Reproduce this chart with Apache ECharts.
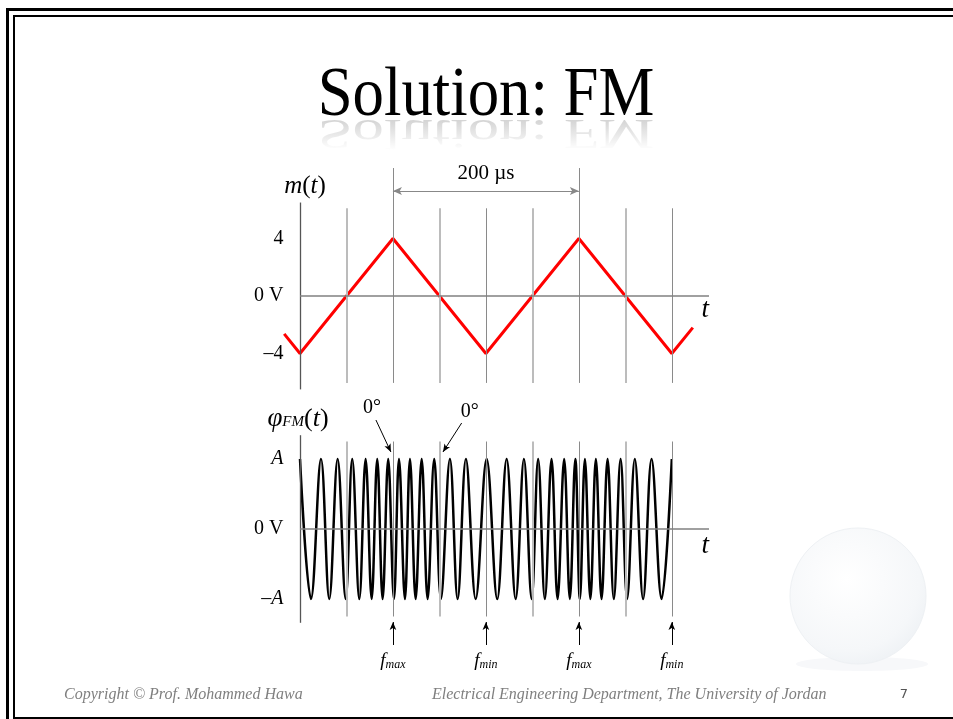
<!DOCTYPE html>
<html>
<head>
<meta charset="utf-8">
<title>Solution: FM</title>
<script src="https://cdn.jsdelivr.net/npm/echarts@6.0.0/dist/echarts.min.js"></script>
<style>
  html, body { margin: 0; padding: 0; background: #fff; }
  #main { width: 953px; height: 719px; }
</style>
</head>
<body>
<div id="main"></div>
<script>
// m(t): triangle message, time in microseconds, value in volts
var mTimes = [-17, 0, 100, 200, 300, 400, 422.6];
var mValues = [-2.64, -4, 4, -4, 4, -4, -2.2];
var mTickValues = [-4, 0, 4];
var mTickLabels = ['\u20134', '0 V', '4'];

// FM signal: where the crests (+A) and troughs (-A) sit, in microseconds
var fmPeakTimes = [0, 22.6, 40.5, 56.2, 70.6, 83.1, 94.9, 106.5, 118.3, 130.9, 144.4,
  161.3, 178.5, 200.8, 222.3, 240.9, 256.2, 270.6, 284.2, 296.2, 306.5, 318.3, 330.9,
  344.9, 360.2, 378.2, 400];
var fmTroughTimes = [11.8, 31.5, 49.1, 63.8, 77.1, 88.9, 101.1, 112.9, 124.4, 137.3,
  151.6, 169.6, 189.0, 212.2, 232.0, 249.2, 263.4, 277.1, 290.3, 301.1, 312.4, 324.4,
  337.6, 351.9, 369.1, 389.0];
var fmTickValues = [-1, 0, 1];
var fmTickLabels = ['\u2013{i|A}', '0 V', '{i|A}'];

// vertical guides every 50 us, and the instants marked under the FM plot
var gridTimes = [50, 100, 150, 200, 250, 300, 350, 400];
var fMarkTimes = [100, 200, 300, 400];
var fMarkNames = ['max', 'min', 'max', 'min'];

var serif = '"Liberation Serif", "Times New Roman", serif';

var mData = mTimes.map(function (t, i) { return [t, mValues[i]]; });
var fmData = fmPeakTimes.map(function (t) { return [t, 1]; })
  .concat(fmTroughTimes.map(function (t) { return [t, -1]; }))
  .sort(function (a, b) { return a[0] - b[0]; });

function guides(lo, hi, tallTimes, tallTop, axisLo, axisHi) {
  var out = gridTimes.map(function (t) {
    var major = t % 100 === 0;
    var top = tallTimes.indexOf(t) >= 0 ? tallTop : hi;
    return [
      { coord: [t, lo], lineStyle: { color: major ? '#8a8a8a' : '#bcbcbc', width: major ? 1 : 2, type: 'solid' } },
      { coord: [t, top] }
    ];
  });
  // vertical axis at t = 0 and the 0 V line
  out.push([{ coord: [0, axisLo], lineStyle: { color: '#555', width: 1.3, type: 'solid' } }, { coord: [0, axisHi] }]);
  out.push([{ coord: [0, 0], lineStyle: { color: '#808080', width: 1.5, type: 'solid' } }, { coord: [440, 0] }]);
  return out;
}

var dom = document.getElementById('main');
var myChart = echarts.init(dom);

function tAxis(idx, pad) {
  return {
    gridIndex: idx, type: 'value', min: -20, max: 440,
    axisLine: { show: false }, axisTick: { show: false }, axisLabel: { show: false }, splitLine: { show: false },
    name: 't', nameLocation: 'end', nameGap: 0,
    nameTextStyle: { fontFamily: serif, fontStyle: 'italic', fontSize: 27, color: '#000',
      align: 'right', verticalAlign: 'top', padding: [pad, 0, 0, 0] }
  };
}

var option = {
  backgroundColor: '#ffffff',
  animation: false,
  grid: [
    { left: 281.4, top: 166.6, width: 427.6, height: 222.8 },
    { left: 281.4, top: 417, width: 427.6, height: 231 }
  ],
  xAxis: [tAxis(0, 0), tAxis(1, 3)],
  yAxis: [
    {
      gridIndex: 0, type: 'value', min: -6.5, max: 9,
      axisLine: { show: false }, axisTick: { show: false }, splitLine: { show: false },
      axisLabel: {
        customValues: mTickValues,
        formatter: function (v) { return mTickLabels[mTickValues.indexOf(v)]; },
        margin: -2, fontFamily: serif, fontSize: 20, color: '#000'
      }
    },
    {
      gridIndex: 1, type: 'value', min: -1.7, max: 1.6,
      axisLine: { show: false }, axisTick: { show: false }, splitLine: { show: false },
      axisLabel: {
        customValues: fmTickValues,
        formatter: function (v) { return fmTickLabels[fmTickValues.indexOf(v)]; },
        margin: -2, fontFamily: serif, fontSize: 20, color: '#000',
        rich: { i: { fontFamily: serif, fontStyle: 'italic', fontSize: 20, color: '#000' } }
      }
    }
  ],
  series: [
    // guides of the top plot
    {
      type: 'line', xAxisIndex: 0, yAxisIndex: 0, data: [], z: 1, silent: true,
      markLine: {
        silent: true, symbol: ['none', 'none'], label: { show: false },
        data: guides(-6.05, 6.1, [100, 300], 8.9, -6.5, 6.5)
      }
    },
    // 200 us dimension
    {
      type: 'line', xAxisIndex: 0, yAxisIndex: 0, data: [], z: 1, silent: true,
      markLine: {
        silent: true, symbol: ['arrow', 'arrow'], symbolSize: [6, 9],
        lineStyle: { color: '#888', width: 1, type: 'solid' },
        label: { show: true, position: 'insideMiddleTop', distance: 7, formatter: '200 \u00b5s',
          fontFamily: serif, fontSize: 21, color: '#000' },
        data: [[{ coord: [100, 7.3] }, { coord: [300, 7.3] }]]
      }
    },
    {
      type: 'line', name: 'm(t)', xAxisIndex: 0, yAxisIndex: 0, data: mData,
      showSymbol: false, clip: false, z: 3,
      lineStyle: { color: '#ff0000', width: 3 },
      markPoint: {
        silent: true, symbol: 'circle', symbolSize: 0,
        label: { show: true, position: 'top', distance: 4, formatter: '{i|m}({i|t})',
          fontFamily: serif, fontSize: 25, color: '#000',
          rich: { i: { fontFamily: serif, fontStyle: 'italic', fontSize: 25, color: '#000' } } },
        data: [{ coord: [5.4, 6.5] }]
      }
    },
    // guides of the bottom plot
    {
      type: 'line', xAxisIndex: 1, yAxisIndex: 1, data: [], z: 1, silent: true,
      markLine: {
        silent: true, symbol: ['none', 'none'], label: { show: false },
        data: guides(-1.25, 1.25, [], 1.25, -1.34, 1.34)
      }
    },
    // 0 degree pointers
    {
      type: 'line', xAxisIndex: 1, yAxisIndex: 1, data: [], z: 4, silent: true,
      markLine: {
        silent: true, symbol: ['none', 'arrow'], symbolSize: [5, 8],
        lineStyle: { color: '#000', width: 1, type: 'solid' },
        label: { show: true, position: 'start', distance: 2, formatter: '0\u00b0',
          fontFamily: serif, fontSize: 20, color: '#000' },
        data: [
          [{ coord: [81.7, 1.557], label: { offset: [-3, 0] } }, { coord: [97.8, 1.1] }],
          [{ coord: [173.9, 1.514], label: { offset: [7, 0] } }, { coord: [153.8, 1.1] }]
        ]
      }
    },
    // fmax / fmin pointers
    {
      type: 'line', xAxisIndex: 1, yAxisIndex: 1, data: [], z: 4, silent: true,
      markLine: {
        silent: true, symbol: ['none', 'arrow'], symbolSize: [5, 8],
        lineStyle: { color: '#000', width: 1, type: 'solid' },
        label: {
          show: true, position: 'start', distance: 6,
          formatter: function (p) { return '{f|f}{s|' + p.name + '}'; },
          rich: {
            f: { fontFamily: serif, fontStyle: 'italic', fontSize: 19, color: '#000' },
            s: { fontFamily: serif, fontStyle: 'italic', fontSize: 12, color: '#000', padding: [8, 0, 0, 0] }
          }
        },
        data: fMarkTimes.map(function (t, i) {
          return [{ name: fMarkNames[i], coord: [t, -1.657] }, { coord: [t, -1.33] }];
        })
      }
    },
    {
      type: 'line', name: 'FM', xAxisIndex: 1, yAxisIndex: 1, data: fmData,
      smooth: 0.38, showSymbol: false, z: 3,
      lineStyle: { color: '#000', width: 2.5 },
      markPoint: {
        silent: true, symbol: 'circle', symbolSize: 0,
        label: { show: true, position: 'top', distance: 3, offset: [-2, 0],
          formatter: '{p|\u03c6}{s|FM}({i|t})',
          fontFamily: serif, fontSize: 26, color: '#000',
          rich: {
            p: { fontFamily: serif, fontStyle: 'italic', fontSize: 27, color: '#000' },
            s: { fontFamily: serif, fontStyle: 'italic', fontSize: 15, color: '#000', padding: [6, 0, 0, 0] },
            i: { fontFamily: serif, fontStyle: 'italic', fontSize: 26, color: '#000' }
          } },
        data: [{ coord: [0, 1.34] }]
      }
    }
  ],
  graphic: [
    // slide frame
    { type: 'rect', shape: { x: 7.5, y: 9.5, width: 1000, height: 1000 },
      style: { fill: 'none', stroke: '#000', lineWidth: 3 }, z: 0, silent: true },
    { type: 'rect', shape: { x: 14, y: 16, width: 1000, height: 702 },
      style: { fill: 'none', stroke: '#000', lineWidth: 2 }, z: 0, silent: true },
    // faint globe watermark
    { type: 'ellipse', shape: { cx: 862, cy: 664, rx: 66, ry: 7 },
      style: { fill: '#f7f8fa' }, z: 0, silent: true },
    { type: 'circle', shape: { cx: 858, cy: 596, r: 68 },
      style: { fill: new echarts.graphic.RadialGradient(0.42, 0.38, 0.75, [
        { offset: 0, color: '#ffffff' }, { offset: 0.7, color: '#f5f7f9' }, { offset: 1, color: '#eaeef2' }]),
        stroke: '#eef1f4', lineWidth: 1 },
      z: 0, silent: true },
    // title and its reflection
    { type: 'text', x: 486, y: 97, scaleX: 0.91, silent: true, z: 5,
      style: { text: 'Solution: FM', x: 0, y: 0, align: 'center', verticalAlign: 'middle',
        fontFamily: serif, fontSize: 69, fill: '#000' } },
    { type: 'text', x: 486, y: 118, scaleX: 0.91, scaleY: -0.6, silent: true, z: 5,
      style: { text: 'Solution: FM', x: 0, y: -21, align: 'center', verticalAlign: 'middle',
        fontFamily: serif, fontSize: 69, fill: '#000', opacity: 0.2 } },
    { type: 'rect', shape: { x: 300, y: 118, width: 380, height: 32 },
      style: { fill: new echarts.graphic.LinearGradient(0, 0, 0, 1, [
        { offset: 0, color: 'rgba(255,255,255,0.1)' }, { offset: 1, color: 'rgba(255,255,255,1)' }]) },
      z: 6, silent: true },
    // footer
    { type: 'text', x: 64, y: 695, silent: true, z: 5,
      style: { text: 'Copyright \u00a9 Prof. Mohammed Hawa', verticalAlign: 'middle',
        fontFamily: serif, fontStyle: 'italic', fontSize: 16, fill: '#7f7f7f' } },
    { type: 'text', x: 432, y: 695, silent: true, z: 5,
      style: { text: 'Electrical Engineering Department, The University of Jordan', verticalAlign: 'middle',
        fontFamily: serif, fontStyle: 'italic', fontSize: 16, fill: '#7f7f7f' } },
    { type: 'text', x: 904, y: 695, silent: true, z: 5,
      style: { text: '7', align: 'center', verticalAlign: 'middle',
        fontFamily: '"DejaVu Sans", sans-serif', fontSize: 13, fill: '#555' } }
  ]
};

window.onresize = function () {
  myChart.resize();
};

if (option && typeof option === 'object') {
  myChart.setOption(option);
}
</script>
</body>
</html>
